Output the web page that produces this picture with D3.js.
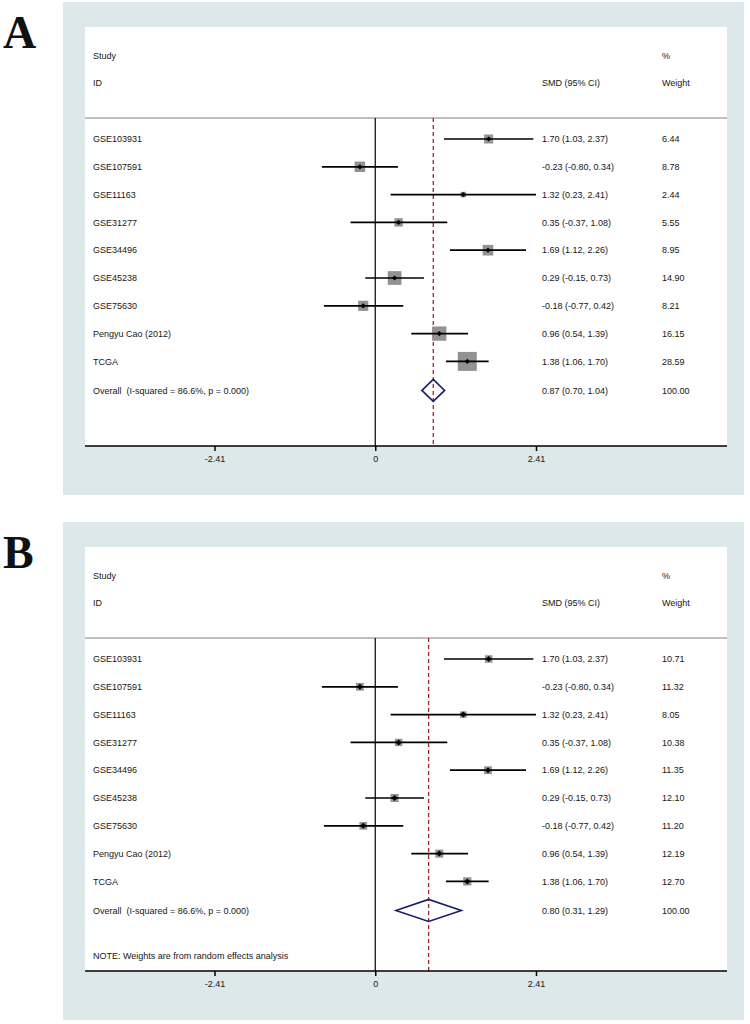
<!DOCTYPE html>
<html>
<head>
<meta charset="utf-8">
<script src="https://cdn.jsdelivr.net/npm/d3@7"></script>
<style>
  body { margin: 0; background: #fff; }
  text { font-family: "Liberation Sans", Arial, sans-serif; fill: #161616; white-space: pre; }
</style>
</head>
<body>
<div id="chart"></div>
<script>
let w = 750;
let h = 1024;

// data
let studies = ["GSE103931", "GSE107591", "GSE11163", "GSE31277", "GSE34496",
  "GSE45238", "GSE75630", "Pengyu Cao (2012)", "TCGA"];
let smd = [1.70, -0.23, 1.32, 0.35, 1.69, 0.29, -0.18, 0.96, 1.38];
let lower = [1.03, -0.80, 0.23, -0.37, 1.12, -0.15, -0.77, 0.54, 1.06];
let upper = [2.37, 0.34, 2.41, 1.08, 2.26, 0.73, 0.42, 1.39, 1.70];
let weightsA = [6.44, 8.78, 2.44, 5.55, 8.95, 14.90, 8.21, 16.15, 28.59];
let weightsB = [10.71, 11.32, 8.05, 10.38, 11.35, 12.10, 11.20, 12.19, 12.70];
let overallA = [0.87, 0.70, 1.04];
let overallB = [0.80, 0.31, 1.29];
let overallLabel = "Overall  (I-squared = 86.6%, p = 0.000)";
let xTicks = [-2.41, 0, 2.41];

// plain hyphen for negatives, like the original
let f2 = d3.formatLocale({ decimal: ".", thousands: ",", grouping: [3], currency: ["", ""], minus: "-" }).format(".2f");

let viz = d3.select("#chart")
  .append("svg")
  .attr("width", w)
  .attr("height", h)
  ;

// shared x scale (same in both panels)
let xScale = d3.scaleLinear().domain([-2.41, 2.41]).range([214.5, 536]);

function drawPanel(cfg) {
  let g = viz.append("g").attr("transform", "translate(0," + cfg.top + ")");

  // graph region + plot region
  g.append("rect")
    .attr("x", 63).attr("y", 0)
    .attr("width", 681).attr("height", cfg.height)
    .attr("fill", "#dde8eb");
  let wt = 25;
  let axisY = cfg.axisY;
  g.append("rect")
    .attr("x", 85).attr("y", wt)
    .attr("width", 642).attr("height", axisY - wt)
    .attr("fill", "#fff");

  // panel letter
  viz.append("text")
    .attr("x", 3).attr("y", cfg.top + cfg.letterY)
    .style("font-family", "'Liberation Serif', 'Times New Roman', serif")
    .style("font-size", "46px")
    .style("font-weight", "bold")
    .style("fill", "#111")
    .text(cfg.letter);

  // headers
  let hdr = [
    { t: "Study", x: 93, y: wt + 29 },
    { t: "ID", x: 93, y: wt + 56 },
    { t: "SMD (95% CI)", x: 542, y: wt + 56 },
    { t: "%", x: 662, y: wt + 29 },
    { t: "Weight", x: 662, y: wt + 56 }
  ];
  g.selectAll(".hdr").data(hdr).enter().append("text")
    .attr("class", "hdr")
    .attr("x", d => d.x).attr("y", d => d.y)
    .attr("dy", "0.35em")
    .style("font-size", "9px")
    .text(d => d.t);

  let lineY = wt + 91;
  g.append("line")
    .attr("x1", 85).attr("x2", 727)
    .attr("y1", lineY).attr("y2", lineY)
    .attr("stroke", "#aaaaaa").attr("stroke-width", 1.5);

  let rowY = d3.scaleLinear().domain([0, 1]).range([wt + 112, wt + 112 + 27.8]);
  let overallY = rowY(8) + 29;

  // no-effect line and overall estimate line
  g.append("line")
    .attr("x1", xScale(0)).attr("x2", xScale(0))
    .attr("y1", lineY).attr("y2", axisY)
    .attr("stroke", "#000").attr("stroke-width", 1.2);
  g.append("line")
    .attr("x1", xScale(cfg.overall[0])).attr("x2", xScale(cfg.overall[0]))
    .attr("y1", lineY).attr("y2", axisY)
    .attr("stroke", "#a3232b").attr("stroke-width", 1.3)
    .attr("stroke-dasharray", "4,3");

  let rows = studies.map((s, i) => ({
    name: s, est: smd[i], lo: lower[i], hi: upper[i], wgt: cfg.weights[i], y: rowY(i)
  }));

  let rg = g.selectAll(".row").data(rows).enter().append("g").attr("class", "row");

  rg.append("text")
    .attr("x", 93).attr("y", d => d.y).attr("dy", "0.35em")
    .style("font-size", "9px")
    .text(d => d.name);

  rg.append("rect")
    .attr("x", d => xScale(d.est) - cfg.boxK * Math.sqrt(d.wgt) / 2)
    .attr("y", d => d.y - cfg.boxK * Math.sqrt(d.wgt) / 2)
    .attr("width", d => cfg.boxK * Math.sqrt(d.wgt))
    .attr("height", d => cfg.boxK * Math.sqrt(d.wgt))
    .attr("fill", "#929292");

  rg.append("line")
    .attr("x1", d => xScale(d.lo)).attr("x2", d => xScale(d.hi))
    .attr("y1", d => d.y).attr("y2", d => d.y)
    .attr("stroke", "#000").attr("stroke-width", 1.7);

  rg.append("path")
    .attr("d", d => {
      let cx = xScale(d.est), r = cfg.dot;
      return "M" + (cx - r) + "," + d.y + "L" + cx + "," + (d.y - r) +
        "L" + (cx + r) + "," + d.y + "L" + cx + "," + (d.y + r) + "Z";
    })
    .attr("fill", "#000");

  rg.append("text")
    .attr("x", 542).attr("y", d => d.y).attr("dy", "0.35em")
    .style("font-size", "9px")
    .text(d => f2(d.est) + " (" + f2(d.lo) + ", " + f2(d.hi) + ")");

  rg.append("text")
    .attr("x", 662).attr("y", d => d.y).attr("dy", "0.35em")
    .style("font-size", "9px")
    .text(d => f2(d.wgt));

  // overall row
  let o = cfg.overall;
  g.append("text")
    .attr("x", 93).attr("y", overallY).attr("dy", "0.35em")
    .style("font-size", "9px")
    .text(overallLabel);
  g.append("path")
    .attr("d", "M" + xScale(o[1]) + "," + overallY +
      "L" + xScale(o[0]) + "," + (overallY - 11) +
      "L" + xScale(o[2]) + "," + overallY +
      "L" + xScale(o[0]) + "," + (overallY + 11) + "Z")
    .attr("fill", "none")
    .attr("stroke", "#1b1d6b")
    .attr("stroke-width", 1.6);
  g.append("text")
    .attr("x", 542).attr("y", overallY).attr("dy", "0.35em")
    .style("font-size", "9px")
    .text(f2(o[0]) + " (" + f2(o[1]) + ", " + f2(o[2]) + ")");
  g.append("text")
    .attr("x", 662).attr("y", overallY).attr("dy", "0.35em")
    .style("font-size", "9px")
    .text("100.00");

  if (cfg.note) {
    g.append("text")
      .attr("x", 93).attr("y", cfg.noteY).attr("dy", "0.35em")
      .style("font-size", "9px")
      .text(cfg.note);
  }

  // x axis
  let xAxisGroup = g.append("g").attr("class", "xAxisGroup")
    .attr("transform", "translate(0," + axisY + ")");
  let xAxis = d3.axisBottom(xScale)
    .tickValues(xTicks)
    .tickSize(5)
    .tickPadding(5)
    .tickFormat(d => d === 0 ? "0" : f2(d));
  xAxisGroup.call(xAxis);
  xAxisGroup.select(".domain").remove();
  xAxisGroup.append("line")
    .attr("x1", 85).attr("x2", 727)
    .attr("stroke", "#000").attr("stroke-width", 1.5);
  xAxisGroup.selectAll(".tick line").attr("stroke", "#000").attr("stroke-width", 1.5);
  xAxisGroup.selectAll(".tick text")
    .style("font-family", "'Liberation Sans', Arial, sans-serif")
    .style("font-size", "9px")
    .attr("fill", "#161616");
}

drawPanel({
  letter: "A", top: 2, height: 493, axisY: 444, letterY: 46,
  weights: weightsA, overall: overallA, boxK: 3.55, dot: 2.6
});
drawPanel({
  letter: "B", top: 522, height: 498, axisY: 449, letterY: 46,
  weights: weightsB, overall: overallB, boxK: 2.3, dot: 3,
  note: "NOTE: Weights are from random effects analysis", noteY: 434
});
</script>
</body>
</html>
